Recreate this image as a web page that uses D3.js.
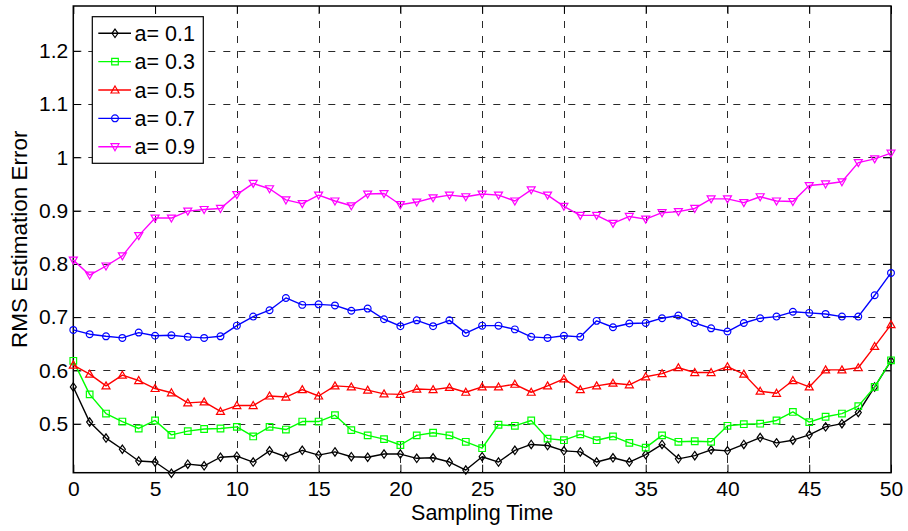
<!DOCTYPE html>
<html>
<head>
<meta charset="utf-8">
<script src="https://cdn.jsdelivr.net/npm/d3@7"></script>
<style>
  html, body { margin: 0; padding: 0; background: #fff; }
  svg { display: block; font-family: "Liberation Sans", Arial, Helvetica, sans-serif; }
</style>
</head>
<body>
<svg id="chart" width="908" height="531"></svg>
<script>
// Sampling instants 0..50
const sampleTimes = d3.range(0, 51);

// RMS estimation error for each forgetting factor a
const rmsA01 = [0.569, 0.503, 0.473, 0.452, 0.430, 0.428, 0.407, 0.424, 0.421, 0.437,
  0.439, 0.428, 0.449, 0.438, 0.450, 0.441, 0.447, 0.438, 0.437, 0.443,
  0.443, 0.435, 0.436, 0.428, 0.413, 0.438, 0.428, 0.450, 0.461, 0.459,
  0.449, 0.447, 0.428, 0.436, 0.428, 0.442, 0.461, 0.434, 0.440, 0.451,
  0.449, 0.461, 0.474, 0.464, 0.469, 0.479, 0.494, 0.500, 0.521, 0.569, 0.618];
const rmsA03 = [0.618, 0.555, 0.519, 0.504, 0.491, 0.506, 0.479, 0.486, 0.490, 0.491,
  0.494, 0.476, 0.494, 0.489, 0.504, 0.504, 0.516, 0.488, 0.478, 0.471,
  0.460, 0.478, 0.483, 0.478, 0.466, 0.454, 0.498, 0.496, 0.506, 0.472,
  0.469, 0.480, 0.469, 0.476, 0.464, 0.455, 0.478, 0.466, 0.467, 0.466,
  0.496, 0.499, 0.500, 0.506, 0.522, 0.503, 0.513, 0.519, 0.533, 0.569, 0.619];
const rmsA05 = [0.610, 0.593, 0.571, 0.591, 0.581, 0.566, 0.558, 0.539, 0.541, 0.523,
  0.534, 0.534, 0.552, 0.550, 0.564, 0.552, 0.571, 0.569, 0.563, 0.556,
  0.555, 0.565, 0.564, 0.568, 0.559, 0.569, 0.569, 0.574, 0.559, 0.571,
  0.584, 0.564, 0.571, 0.576, 0.573, 0.588, 0.594, 0.605, 0.596, 0.596,
  0.607, 0.593, 0.561, 0.557, 0.581, 0.569, 0.601, 0.601, 0.605, 0.645, 0.686];
const rmsA07 = [0.676, 0.668, 0.664, 0.661, 0.671, 0.665, 0.666, 0.663, 0.661, 0.664,
  0.684, 0.701, 0.713, 0.736, 0.723, 0.724, 0.722, 0.712, 0.716, 0.696,
  0.683, 0.694, 0.683, 0.694, 0.670, 0.684, 0.684, 0.677, 0.663, 0.661,
  0.665, 0.663, 0.693, 0.681, 0.688, 0.689, 0.698, 0.703, 0.689, 0.679,
  0.673, 0.689, 0.698, 0.701, 0.710, 0.708, 0.706, 0.701, 0.701, 0.741, 0.783];
const rmsA09 = [0.807, 0.779, 0.796, 0.815, 0.853, 0.886, 0.886, 0.899, 0.902, 0.904,
  0.930, 0.951, 0.941, 0.920, 0.913, 0.929, 0.918, 0.909, 0.931, 0.932,
  0.911, 0.916, 0.924, 0.929, 0.926, 0.931, 0.929, 0.918, 0.939, 0.929,
  0.908, 0.891, 0.891, 0.876, 0.889, 0.884, 0.896, 0.898, 0.904, 0.922,
  0.922, 0.915, 0.926, 0.918, 0.917, 0.947, 0.950, 0.954, 0.990, 0.997, 1.008];

const seriesLabels = ["a= 0.1", "a= 0.3", "a= 0.5", "a= 0.7", "a= 0.9"];
const seriesColors = ["#000000", "#00ff00", "#ff0000", "#0000ff", "#ff00ff"];
const seriesMarkers = ["diamond", "square", "triangleUp", "circle", "triangleDown"];
const seriesValues = [rmsA01, rmsA03, rmsA05, rmsA07, rmsA09];

const xTicks = [0, 5, 10, 15, 20, 25, 30, 35, 40, 45, 50];
const yTicks = [0.5, 0.6, 0.7, 0.8, 0.9, 1.0, 1.1, 1.2];
const yTickLabels = ["0.5", "0.6", "0.7", "0.8", "0.9", "1", "1.1", "1.2"];

const xLabel = "Sampling Time";
const yLabel = "RMS Estimation Error";

// Plot box
const boxL = 73.3, boxR = 891, boxT = 6, boxB = 472.7;

const svg = d3.select("#chart");
const x = d3.scaleLinear().domain([0, 50]).range([boxL, boxR]);
const y = d3.scaleLinear().domain([0.408, 1.284]).range([boxB, boxT]);

const fontSize = 21.5;
const tickFontSize = 21;

// Grid
const grid = svg.append("g").attr("stroke", "#2a2a2a").attr("stroke-width", 1)
  .attr("stroke-dasharray", "7,8").attr("fill", "none");
grid.selectAll("line.gx").data(xTicks.filter(t => t > 0 && t < 50)).join("line")
  .attr("x1", d => Math.round(x(d)) + 0.5).attr("x2", d => Math.round(x(d)) + 0.5)
  .attr("y1", boxT).attr("y2", boxB);
grid.selectAll("line.gy").data(yTicks).join("line")
  .attr("y1", d => Math.round(y(d)) + 0.5).attr("y2", d => Math.round(y(d)) + 0.5)
  .attr("x1", boxL).attr("x2", boxR);

// Axes with inward ticks on all four sides
const tickLen = 8;
const xAxisBottom = d3.axisBottom(x).tickValues(xTicks).tickSizeInner(-tickLen).tickSizeOuter(0)
  .tickPadding(8.3).tickFormat(d3.format("d"));
const xAxisTop = d3.axisTop(x).tickValues(xTicks).tickSizeInner(-tickLen).tickSizeOuter(0).tickFormat("");
const yAxisLeft = d3.axisLeft(y).tickValues(yTicks).tickSizeInner(-tickLen).tickSizeOuter(0)
  .tickPadding(5).tickFormat((d, i) => yTickLabels[i]);
const yAxisRight = d3.axisRight(y).tickValues(yTicks).tickSizeInner(-tickLen).tickSizeOuter(0).tickFormat("");

function styleAxis(g) {
  g.select(".domain").remove();
  g.selectAll(".tick line").attr("stroke", "#000").attr("stroke-width", 1);
  g.selectAll(".tick text").attr("fill", "#000").attr("font-size", tickFontSize)
    .attr("font-family", "'Liberation Sans', Arial, sans-serif");
}
svg.append("g").attr("transform", `translate(0,${boxB})`).call(xAxisBottom).call(styleAxis);
svg.append("g").attr("transform", `translate(0,${boxT})`).call(xAxisTop).call(styleAxis);
svg.append("g").attr("transform", `translate(${boxL},0)`).call(yAxisLeft).call(styleAxis);
svg.append("g").attr("transform", `translate(${boxR},0)`).call(yAxisRight).call(styleAxis);

// Box
svg.append("rect").attr("x", boxL).attr("y", boxT)
  .attr("width", boxR - boxL).attr("height", boxB - boxT)
  .attr("fill", "none").attr("stroke", "#000").attr("stroke-width", 1.5);

// Marker shapes
function markerPath(kind) {
  switch (kind) {
    case "diamond": return "M0,-4.2L3,0L0,4.2L-3,0Z";
    case "square": return "M-3.3,-3.3H3.3V3.3H-3.3Z";
    case "triangleUp": return "M0,-4L4,3L-4,3Z";
    case "triangleDown": return "M0,4L4,-3L-4,-3Z";
    default: return d3.symbol(d3.symbolCircle, 36)();
  }
}

const line = d3.line().x((d, i) => x(sampleTimes[i])).y(d => y(d));

seriesValues.forEach((vals, s) => {
  const g = svg.append("g");
  g.append("path").datum(vals).attr("d", line)
    .attr("fill", "none").attr("stroke", seriesColors[s]).attr("stroke-width", 1.4)
    .attr("stroke-linejoin", "round");
  g.selectAll("path.m").data(vals).join("path").attr("class", "m")
    .attr("transform", (d, i) => `translate(${x(sampleTimes[i])},${y(d)})`)
    .attr("d", markerPath(seriesMarkers[s]))
    .attr("fill", "none").attr("stroke", seriesColors[s]).attr("stroke-width", 1.2);
});

// Legend
const legX = 92.3, legY = 16.7, legW = 111, legH = 146.6;
const leg = svg.append("g");
leg.append("rect").attr("x", legX).attr("y", legY).attr("width", legW).attr("height", legH)
  .attr("fill", "#fff").attr("stroke", "#000").attr("stroke-width", 1.2);
seriesLabels.forEach((lab, s) => {
  const cy = 33.3 + s * 28.35;
  leg.append("line").attr("x1", 98.3).attr("x2", 131).attr("y1", cy).attr("y2", cy)
    .attr("stroke", seriesColors[s]).attr("stroke-width", 1.4);
  leg.append("path").attr("transform", `translate(115,${cy})`).attr("d", markerPath(seriesMarkers[s]))
    .attr("fill", "none").attr("stroke", seriesColors[s]).attr("stroke-width", 1.2);
  leg.append("text").attr("x", 134.5).attr("y", cy).attr("dy", "0.36em")
    .attr("font-size", fontSize).attr("fill", "#000").text(lab);
});

// Axis titles
svg.append("text").attr("x", (boxL + boxR) / 2).attr("y", 520)
  .attr("text-anchor", "middle").attr("font-size", 21.5).attr("fill", "#000").text(xLabel);
svg.append("text").attr("transform", `translate(27,${(boxT + boxB) / 2}) rotate(-90)`)
  .attr("text-anchor", "middle").attr("font-size", 22.5).attr("fill", "#000").text(yLabel);
</script>
</body>
</html>
